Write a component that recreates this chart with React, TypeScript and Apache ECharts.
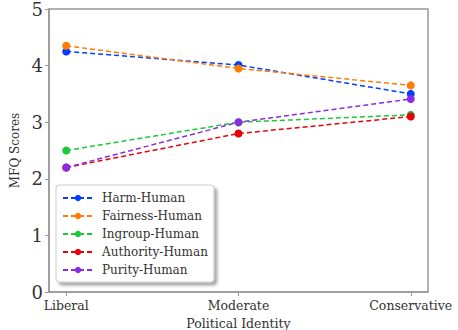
import React, { useEffect, useRef } from "react";
import * as echarts from "echarts";

const categories = ["Liberal", "Moderate", "Conservative"];
const seriesNames = ["Harm-Human", "Fairness-Human", "Ingroup-Human", "Authority-Human", "Purity-Human"];
const harm = [4.25, 4.01, 3.5];
const fairness = [4.35, 3.95, 3.65];
const ingroup = [2.5, 3.0, 3.13];
const authority = [2.2, 2.8, 3.1];
const purity = [2.2, 3.0, 3.41];
const yTicks = [0, 1, 2, 3, 4, 5];
const colors = ["#023eff", "#ff7c00", "#1ac938", "#e8000b", "#8b2be2"];

export default function App() {
  const ref = useRef<HTMLDivElement>(null);
  useEffect(() => {
    const chart = echarts.init(ref.current!, null, { renderer: "svg" });
    const allData = [harm, fairness, ingroup, authority, purity];
    const font = "DejaVu Serif";
    chart.setOption({
      animation: false,
      textStyle: { fontFamily: font },
      grid: {
        left: 49, right: 30, top: 9, bottom: 38,
        outerBoundsMode: "none",
        containLabel: false,
        show: true, borderColor: "#999", borderWidth: 1.5, backgroundColor: "#fff",
      },
      xAxis: {
        type: "value",
        min: -0.1,
        max: 2.1,
        name: "Political Identity",
        nameLocation: "middle",
        nameGap: 23.5,
        nameTextStyle: { fontFamily: font, fontSize: 12.5, color: "#333" },
        axisLine: { show: true, onZero: false, lineStyle: { color: "#999", width: 1.5 } },
        axisTick: { show: true, length: 4, lineStyle: { color: "#999" }, customValues: [0, 1, 2] },
        axisLabel: {
          customValues: [0, 1, 2],
          formatter: (v: number) => categories[Math.round(v)] ?? "",
          fontFamily: font, fontSize: 12.5, color: "#333", margin: 7,
        },
        splitLine: { show: false },
      },
      yAxis: {
        type: "value",
        min: 0,
        max: 5,
        interval: 1,
        name: "MFQ Scores",
        nameLocation: "middle",
        nameGap: 24.5,
        nameTextStyle: { fontFamily: font, fontSize: 12, color: "#333" },
        axisLine: { show: true, onZero: false, lineStyle: { color: "#999", width: 1.5 } },
        axisTick: { show: true, length: 4, lineStyle: { color: "#999" } },
        axisLabel: {
          formatter: (v: number) => (yTicks.includes(v) ? String(v) : ""),
          fontFamily: font, fontSize: 18, color: "#333", margin: 6,
        },
        splitLine: { show: false },
      },
      legend: {
        data: seriesNames,
        orient: "vertical",
        left: 56,
        top: 185,
        padding: [7, 6, 6, 6],
        itemWidth: 30,
        itemHeight: 8,
        itemGap: 6,
        backgroundColor: "#fff",
        borderColor: "#ccc",
        borderWidth: 1,
        borderRadius: 3,
        shadowBlur: 3,
        shadowColor: "rgba(0,0,0,0.35)",
        shadowOffsetX: 3,
        shadowOffsetY: 3,
        textStyle: { fontFamily: font, fontSize: 12, color: "#333", padding: [0, 0, 0, 4] },
      },
      series: seriesNames.map((name, i) => ({
        name,
        type: "line",
        data: allData[i].map((v, j) => [j, v]),
        symbol: "circle",
        symbolSize: 8,
        itemStyle: { color: colors[i] },
        lineStyle: { color: colors[i], width: 1.5, type: [5, 3] },
      })),
    });
    return () => chart.dispose();
  }, []);
  return <div ref={ref} style={{ width: 458, height: 330, position: "absolute", left: 0, top: 0 }} />;
}
